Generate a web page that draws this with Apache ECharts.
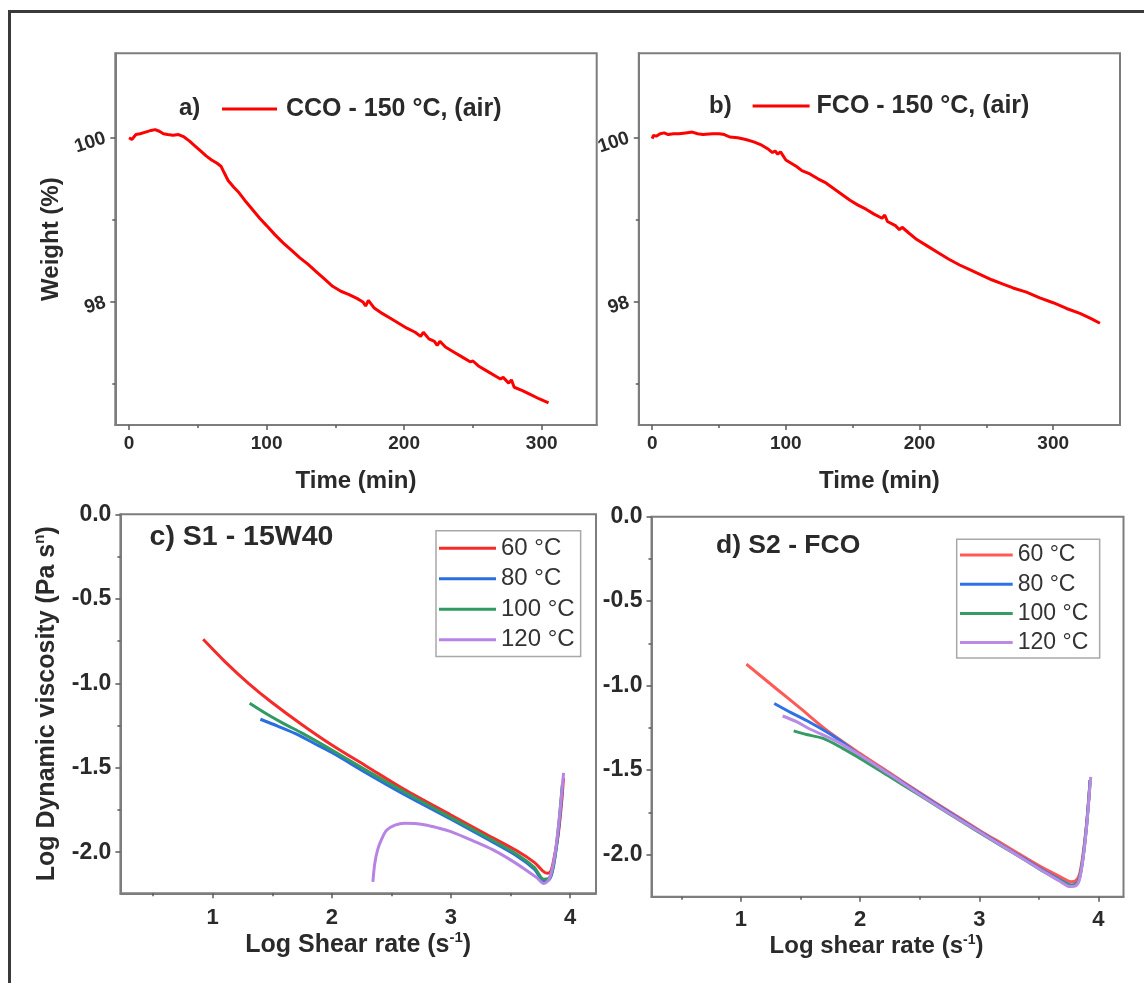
<!DOCTYPE html>
<html><head><meta charset="utf-8">
<script src="https://cdn.jsdelivr.net/npm/echarts@6/dist/echarts.min.js"></script>
<style>html,body{margin:0;padding:0;background:#fff}#c{width:1144px;height:983px}</style>
</head><body><div id="c"></div>
<script>
// ---- Panel a: CCO weight vs time ----
const timeA = [0,2,5,8,12,16,19,22,25,28,32,36,40,44,48,52,56,60,64,67,69,72,76,80,85,90,95,100,106,112,118,124,130,136,142,148,154,160,166,170,172,174,178,184,190,196,202,208,212,214,218,222,224,226,230,236,242,248,250,254,260,266,270,272,276,278,280,286,292,298,305];
const weightA = [100.00,99.98,100.04,100.05,100.07,100.09,100.10,100.08,100.05,100.04,100.03,100.04,100.01,99.96,99.90,99.84,99.78,99.73,99.69,99.65,99.58,99.48,99.40,99.33,99.22,99.12,99.02,98.93,98.82,98.72,98.63,98.54,98.46,98.37,98.28,98.19,98.13,98.09,98.04,98.00,97.95,98.02,97.93,97.86,97.80,97.74,97.68,97.63,97.58,97.63,97.55,97.52,97.47,97.52,97.45,97.39,97.33,97.27,97.28,97.22,97.16,97.10,97.06,97.08,97.01,97.05,96.96,96.92,96.87,96.82,96.77];
// ---- Panel b: FCO weight vs time ----
const timeB = [0,1,3,6,9,12,16,20,25,30,34,38,45,50,54,58,64,70,76,82,87,90,92,94,96,98,100,104,108,112,118,124,130,136,142,148,154,160,166,172,174,176,182,185,187,192,198,206,214,222,230,238,246,254,262,270,280,290,300,310,320,328,335];
const weightB = [99.99,100.03,100.02,100.05,100.06,100.04,100.05,100.05,100.06,100.07,100.05,100.04,100.05,100.05,100.04,100.01,100.00,99.98,99.95,99.91,99.86,99.82,99.84,99.80,99.83,99.78,99.73,99.69,99.65,99.60,99.56,99.50,99.45,99.38,99.31,99.24,99.18,99.13,99.07,99.02,99.06,98.98,98.93,98.88,98.91,98.84,98.76,98.68,98.60,98.52,98.45,98.39,98.33,98.27,98.22,98.17,98.12,98.05,97.99,97.92,97.86,97.80,97.74];
// ---- Panel c: S1 - 15W40 ----
const rateC60 = [0.92,1.1,1.3,1.5,1.75,2.0,2.3,2.6,3.0,3.3,3.55,3.7,3.77,3.81,3.84,3.87,3.9,3.93,3.945];
const viscC60 = [-0.74,-0.87,-1.0,-1.115,-1.245,-1.365,-1.495,-1.625,-1.78,-1.895,-1.99,-2.06,-2.11,-2.125,-2.11,-2.02,-1.9,-1.7,-1.56];
const rateC80 = [1.4,1.55,1.7,1.85,2.0,2.3,2.6,3.0,3.3,3.55,3.7,3.78,3.82,3.85,3.88,3.91,3.935];
const viscC80 = [-1.213,-1.255,-1.3,-1.355,-1.41,-1.535,-1.655,-1.805,-1.92,-2.02,-2.1,-2.17,-2.165,-2.12,-2.0,-1.82,-1.62];
const rateC100 = [1.31,1.45,1.6,1.75,2.0,2.3,2.6,3.0,3.3,3.55,3.7,3.78,3.82,3.85,3.88,3.91,3.935];
const viscC100 = [-1.118,-1.18,-1.24,-1.295,-1.395,-1.52,-1.64,-1.795,-1.91,-2.01,-2.09,-2.16,-2.155,-2.11,-1.99,-1.8,-1.6];
const rateC120 = [2.345,2.36,2.385,2.42,2.46,2.53,2.61,2.7,2.8,2.9,3.0,3.2,3.35,3.5,3.62,3.72,3.78,3.82,3.85,3.88,3.91,3.93,3.946];
const viscC120 = [-2.175,-2.07,-1.985,-1.92,-1.87,-1.84,-1.828,-1.83,-1.84,-1.858,-1.878,-1.937,-1.985,-2.045,-2.1,-2.15,-2.185,-2.165,-2.1,-1.98,-1.8,-1.65,-1.53];
// ---- Panel d: S2 - FCO ----
const rateD60 = [1.046,1.3,1.5,1.72,2.0,2.25,2.49,2.75,3.0,3.2,3.4,3.55,3.68,3.77,3.81,3.84,3.87,3.9,3.92,3.93];
const viscD60 = [-0.873,-1.02,-1.135,-1.264,-1.402,-1.518,-1.629,-1.745,-1.856,-1.94,-2.024,-2.085,-2.132,-2.162,-2.155,-2.12,-2.0,-1.82,-1.65,-1.56];
const rateD80 = [1.28,1.42,1.57,1.785,2.0,2.25,2.49,2.75,3.0,3.2,3.4,3.55,3.68,3.77,3.81,3.84,3.87,3.9,3.92,3.93];
const viscD80 = [-1.106,-1.16,-1.214,-1.303,-1.412,-1.525,-1.635,-1.752,-1.862,-1.95,-2.035,-2.1,-2.15,-2.18,-2.175,-2.14,-2.02,-1.83,-1.66,-1.56];
const rateD100 = [1.443,1.55,1.69,1.85,2.0,2.25,2.49,2.75,3.0,3.2,3.4,3.55,3.68,3.77,3.81,3.84,3.87,3.9,3.92,3.93];
const viscD100 = [-1.268,-1.29,-1.313,-1.37,-1.431,-1.54,-1.645,-1.76,-1.87,-1.955,-2.04,-2.105,-2.155,-2.185,-2.18,-2.14,-2.02,-1.83,-1.66,-1.56];
const rateD120 = [1.35,1.47,1.57,1.785,2.0,2.25,2.49,2.75,3.0,3.2,3.4,3.55,3.68,3.76,3.81,3.84,3.87,3.9,3.92,3.935];
const viscD120 = [-1.18,-1.215,-1.254,-1.323,-1.412,-1.527,-1.64,-1.757,-1.866,-1.953,-2.04,-2.105,-2.16,-2.19,-2.185,-2.15,-2.03,-1.84,-1.67,-1.54];
// ---- tick labels ----
const timeTicks = [0,100,200,300];
const timeMinor = [50,150,250];
const weightTicks = [98,100];
const weightMinor = [97,99];
const rateTicks = [1,2,3,4];
const rateMinor = [0.5,1.5,2.5,3.5];
const viscTicks = [0,-0.5,-1,-1.5,-2];
const viscMinor = [-0.25,-0.75,-1.25,-1.75];
const tempNamesC = ['60 °C','80 °C','100 °C','120 °C'];
const tempNamesD = ['60 °C ','80 °C ','100 °C ','120 °C '];

const FONT = '"Liberation Sans", Arial, Helvetica, sans-serif';
const AX = '#7d7d7d', TK = '#5a5a5a', TX = '#2a2a2a';
const zip = (a, b) => a.map((v, i) => [v, b[i]]);

function axesPair(dim, gi, min, max, labels, minors, fmt, fs, margin, extra) {
  const main = Object.assign({
    type: 'value', gridIndex: gi, position: dim === 'x' ? 'bottom' : 'left', min, max,
    axisLine: {show: true, onZero: false, lineStyle: {color: AX, width: 2}},
    axisTick: {show: true, customValues: labels, length: 5, lineStyle: {color: TK, width: 1.5}},
    axisLabel: {show: true, customValues: labels, formatter: fmt, fontSize: fs, fontWeight: 'bold', fontFamily: FONT, color: TX, margin},
    splitLine: {show: false}
  }, extra || {});
  const minor = {
    type: 'value', gridIndex: gi, position: dim === 'x' ? 'bottom' : 'left', min, max,
    axisLine: {show: false, onZero: false}, axisLabel: {show: false}, splitLine: {show: false},
    axisTick: {show: true, customValues: minors, length: 3, lineStyle: {color: TK, width: 1.5}}
  };
  return [main, minor];
}
const nameRich = (fs, sfs) => ({
  t: {fontSize: fs, fontWeight: 'bold', fontFamily: FONT, color: TX, lineHeight: fs + 4},
  s: {fontSize: sfs, fontWeight: 'bold', fontFamily: FONT, color: TX, lineHeight: sfs + 2, verticalAlign: 'top'}
});

const intFmt = v => String(v);
const oneFmt = v => v.toFixed(1);

const xAxis = [].concat(
  axesPair('x', 0, -10, 340, timeTicks, timeMinor, intFmt, 19, 9,
    {name: 'Time (min)', nameLocation: 'middle', nameGap: 44, nameTextStyle: {fontSize: 24, fontWeight: 'bold', fontFamily: FONT, color: TX}}),
  axesPair('x', 1, -10, 350, timeTicks, timeMinor, intFmt, 19, 9,
    {name: 'Time (min)', nameLocation: 'middle', nameGap: 44, nameTextStyle: {fontSize: 24, fontWeight: 'bold', fontFamily: FONT, color: TX}}),
  axesPair('x', 2, 0.225, 4.218, rateTicks, rateMinor, intFmt, 22, 14,
    {name: '{t|Log Shear rate (s}{s|-1}{t|)}', nameLocation: 'middle', nameGap: 30, nameTextStyle: {rich: nameRich(25, 15)}}),
  axesPair('x', 3, 0.25, 4.21, rateTicks, rateMinor, intFmt, 22, 12,
    {name: '{t|Log shear rate (s}{s|-1}{t|)}', nameLocation: 'middle', nameGap: 36, nameTextStyle: {rich: nameRich(24, 14), padding: [0, 22, 0, 0]}})
);
const yAxis = [].concat(
  axesPair('y', 0, 96.5, 101.03, weightTicks, weightMinor, intFmt, 19, 10,
    {name: 'Weight (%)', nameLocation: 'middle', nameGap: 52, nameTextStyle: {fontSize: 24, fontWeight: 'bold', fontFamily: FONT, color: TX}}),
  axesPair('y', 1, 96.5, 101.03, weightTicks, weightMinor, intFmt, 19, 10),
  axesPair('y', 2, -2.243, 0, viscTicks, viscMinor, oneFmt, 23, 9,
    {name: '{t|Log Dynamic viscosity (Pa s}{s|n}{t|)}', nameLocation: 'middle', nameGap: 59, nameTextStyle: {rich: nameRich(25, 15)}}),
  axesPair('y', 3, -2.25, 0, viscTicks, viscMinor, oneFmt, 23, 9)
);
yAxis[0].axisLabel.rotate = 18;
yAxis[2].axisLabel.rotate = 18;

const grid = [
  {left: 115.3, top: 53.3, width: 481.4, height: 371.7},
  {left: 638.8, top: 53.3, width: 481.2, height: 371.7},
  {left: 120.4, top: 514.3, width: 475.6, height: 379},
  {left: 651.5, top: 516.7, width: 472, height: 380}
].map(g => Object.assign(g, {show: true, borderColor: AX, borderWidth: 2, backgroundColor: 'transparent', containLabel: false}));

const colC = ['#f72a2a', '#2a6ee0', '#2f9a62', '#b784e4'];
const colD = ['#ff5a55', '#2f72e6', '#379b66', '#b98ae6'];

function lineSeries(name, data, xi, yi, color, smooth) {
  return {
    type: 'line', name, data, xAxisIndex: xi, yAxisIndex: yi,
    showSymbol: false, symbol: 'none', smooth: smooth,
    lineStyle: {color, width: 3}, itemStyle: {color}, animation: false
  };
}

const series = [
  lineSeries('CCO - 150 °C, (air)', zip(timeA, weightA), 0, 0, '#ff0000', false),
  lineSeries('FCO - 150 °C, (air)', zip(timeB, weightB), 2, 2, '#ff0000', false),
  lineSeries(tempNamesC[0], zip(rateC60, viscC60), 4, 4, colC[0], 0.3),
  lineSeries(tempNamesC[1], zip(rateC80, viscC80), 4, 4, colC[1], 0.3),
  lineSeries(tempNamesC[2], zip(rateC100, viscC100), 4, 4, colC[2], 0.3),
  lineSeries(tempNamesC[3], zip(rateC120, viscC120), 4, 4, colC[3], 0.3),
  lineSeries(tempNamesD[0], zip(rateD60, viscD60), 6, 6, colD[0], 0.3),
  lineSeries(tempNamesD[1], zip(rateD80, viscD80), 6, 6, colD[1], 0.3),
  lineSeries(tempNamesD[2], zip(rateD100, viscD100), 6, 6, colD[2], 0.3),
  lineSeries(tempNamesD[3], zip(rateD120, viscD120), 6, 6, colD[3], 0.3)
];

const legend = [
  {data: ['CCO - 150 °C, (air)'], left: 222, top: 95, padding: 0, icon: 'rect', itemWidth: 55, itemHeight: 3,
   selectedMode: false, textStyle: {fontSize: 25, fontWeight: 'bold', fontFamily: FONT, color: TX, lineHeight: 28, padding: [0, 0, 0, 4]}},
  {data: ['FCO - 150 °C, (air)'], left: 752.6, top: 92, padding: 0, icon: 'rect', itemWidth: 57, itemHeight: 3,
   selectedMode: false, textStyle: {fontSize: 25, fontWeight: 'bold', fontFamily: FONT, color: TX, lineHeight: 28, padding: [0, 0, 0, 2]}},
  {data: tempNamesC, orient: 'vertical', left: 436, top: 530.7, icon: 'rect', itemWidth: 57, itemHeight: 3, itemGap: 4.5,
   padding: [4.6, 6, 3.7, 3], borderColor: '#a8a8a8', borderWidth: 1.5, backgroundColor: '#fff', selectedMode: false,
   textStyle: {fontSize: 24, lineHeight: 26, fontFamily: FONT, color: '#333'}},
  {data: tempNamesD, orient: 'vertical', left: 956.7, top: 539.3, icon: 'rect', itemWidth: 52.7, itemHeight: 3, itemGap: 4.2,
   padding: [3.2, 5, 3, 3.3], borderColor: '#a8a8a8', borderWidth: 1.5, backgroundColor: '#fff', selectedMode: false,
   textStyle: {fontSize: 23, lineHeight: 25, fontFamily: FONT, color: '#333'}}
];

const txt = (text, x, y, fs) => ({
  type: 'text', x, y, z: 10,
  style: {text, font: 'bold ' + fs + 'px ' + FONT, fill: TX, textAlign: 'left', textVerticalAlign: 'middle'}
});

const graphic = [
  {type: 'rect', shape: {x: 9.5, y: 11.5, width: 1300, height: 1200}, style: {fill: 'none', stroke: '#3a3a3a', lineWidth: 3}, z: 20},
  txt('a)', 179, 108, 24),
  txt('b)', 709, 106, 24),
  txt('c) S1 - 15W40', 149.6, 537, 28.5),
  txt('d) S2 - FCO', 716, 546, 26.5)
];

const chart = echarts.init(document.getElementById('c'), null, {renderer: 'canvas'});
chart.setOption({animation: false, backgroundColor: '#fff', grid, xAxis, yAxis, series, legend, graphic});
</script>
</body></html>
